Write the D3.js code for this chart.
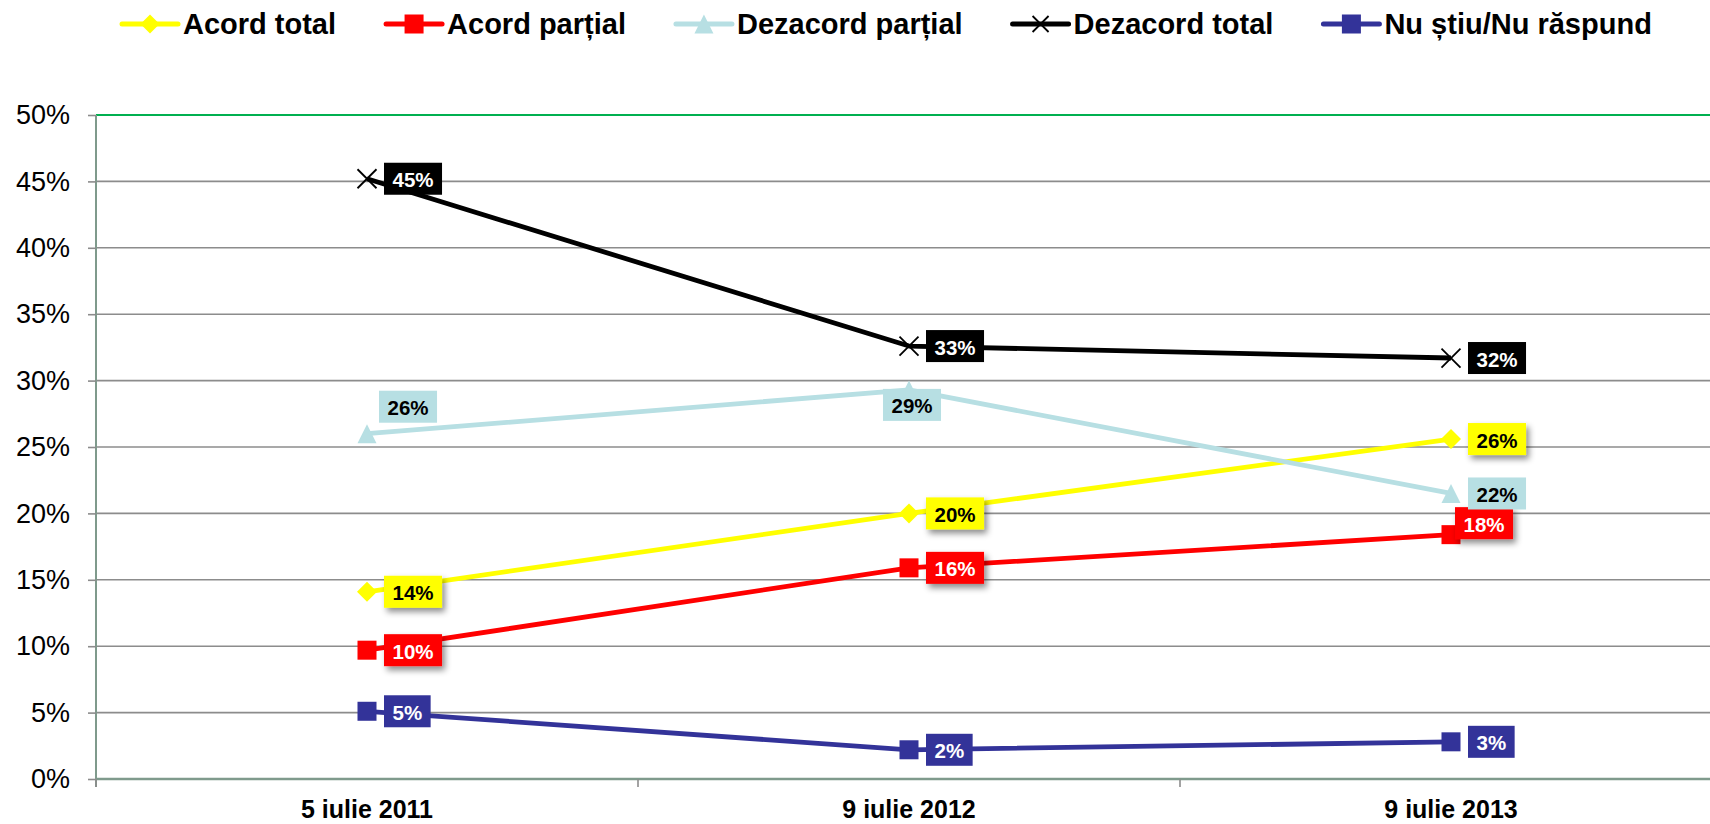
<!DOCTYPE html>
<html>
<head>
<meta charset="utf-8">
<script src="https://cdn.jsdelivr.net/npm/d3@7"></script>
<style>
  html, body { margin: 0; padding: 0; background: #fff; overflow: hidden; }
  svg { display: block; font-family: "Liberation Sans", Arial, sans-serif; }
</style>
</head>
<body>
<svg id="chart" width="1710" height="824"></svg>
<script>
// Survey waves (x categories)
const categories = ["5 iulie 2011", "9 iulie 2012", "9 iulie 2013"];

// Answer shares per wave, in percent
const acordTotal      = [14.1, 20.0, 25.6];
const acordPartial    = [9.7, 15.9, 18.4];
const dezacordPartial = [26.0, 29.3, 21.5];
const dezacordTotal   = [45.2, 32.6, 31.7];
const nuStiu          = [5.1, 2.2, 2.8];

// Series names as shown in the legend
const seriesNames = ["Acord total", "Acord parțial", "Dezacord parțial", "Dezacord total", "Nu știu/Nu răspund"];

// Y axis tick values and labels
const yTicks = [0, 5, 10, 15, 20, 25, 30, 35, 40, 45, 50];
const yTickLabels = ["0%", "5%", "10%", "15%", "20%", "25%", "30%", "35%", "40%", "45%", "50%"];

// Visual styling per series
const styles = [
  { color: "#ffff00", marker: "diamond",  text: "#000", shadow: true },
  { color: "#ff0000", marker: "square",   text: "#fff", shadow: true },
  { color: "#b7dfe3", marker: "triangle", text: "#000", shadow: false },
  { color: "#000000", marker: "cross",    text: "#fff", shadow: false },
  { color: "#333399", marker: "square",   text: "#fff", shadow: false }
];

// Label placement: default to the right of the point; a few are moved to avoid overlaps
const labelPlacement = {
  "2-0": "aboveRight",
  "2-1": "below",
  "1-2": "aboveRightClose"
};

const seriesValues = [acordTotal, acordPartial, dezacordPartial, dezacordTotal, nuStiu];
const series = seriesNames.map((name, i) => ({ name, values: seriesValues[i], ...styles[i] }));

const svg = d3.select("#chart");
const W = 1710, H = 824;
const plotLeft = 96, plotRight = 1722, plotTop = 115, plotBottom = 779;

const x = d3.scaleBand().domain(categories).range([plotLeft, plotRight]).padding(0);
const cx = c => x(c) + x.bandwidth() / 2;
const y = d3.scaleLinear().domain([0, 50]).range([plotBottom, plotTop]);

// Drop shadow for labels
const defs = svg.append("defs");
const f = defs.append("filter").attr("id", "shadow").attr("x", "-20%").attr("y", "-20%").attr("width", "150%").attr("height", "160%");
f.append("feDropShadow").attr("dx", 3).attr("dy", 4).attr("stdDeviation", 3).attr("flood-color", "#000").attr("flood-opacity", 0.45);

// Horizontal gridlines
const grid = svg.append("g");
grid.selectAll("line").data(yTicks.filter(t => t > 0)).join("line")
  .attr("x1", plotLeft).attr("x2", W)
  .attr("y1", d => y(d)).attr("y2", d => y(d))
  .attr("stroke", d => d === 50 ? "#00b050" : "#8c8c8c")
  .attr("stroke-width", d => d === 50 ? 2 : 1.6);

// Y axis
const yAxis = d3.axisLeft(y).tickValues(yTicks)
  .tickFormat((d, i) => yTickLabels[i]).tickSize(8).tickPadding(18);
const gy = svg.append("g").attr("transform", `translate(${plotLeft},0)`).call(yAxis);
gy.select(".domain").attr("stroke", "#7f9a8c").attr("stroke-width", 2)
  .attr("d", `M0,${plotTop}V${plotBottom + 8}`);
gy.selectAll(".tick line").attr("stroke", "#8c8c8c").attr("stroke-width", 1.6);
gy.selectAll(".tick text").attr("fill", "#000").attr("font-size", 27)
  .attr("font-family", "'Liberation Sans', Arial, sans-serif");

// X axis baseline and category boundary ticks
const xAxis = d3.axisBottom(x).tickSize(0).tickFormat(d => d).tickPadding(0);
const gx = svg.append("g").attr("transform", `translate(0,${plotBottom})`).call(xAxis);
gx.select(".domain").attr("stroke", "#7f9a8c").attr("stroke-width", 2.4)
  .attr("d", `M${plotLeft},0H${W}`);
gx.selectAll(".tick text").attr("fill", "#000").attr("font-size", 25).attr("font-weight", "bold")
  .attr("font-family", "'Liberation Sans', Arial, sans-serif")
  .attr("y", 39).attr("dy", 0);
const bounds = categories.map(c => x(c)).concat([x(categories[categories.length - 1]) + x.bandwidth()]);
gx.selectAll(".bound").data(bounds).join("line").attr("class", "bound")
  .attr("x1", d => d).attr("x2", d => d).attr("y1", 0).attr("y2", 8)
  .attr("stroke", "#8c8c8c").attr("stroke-width", 1.6);

// Marker drawing
function drawMarker(g, type, color, size) {
  const s = size / 2;
  if (type === "diamond") {
    g.append("path").attr("d", `M0,${-s}L${s},0L0,${s}L${-s},0Z`).attr("fill", color);
  } else if (type === "square") {
    g.append("rect").attr("x", -s).attr("y", -s).attr("width", size).attr("height", size).attr("fill", color);
  } else if (type === "triangle") {
    g.append("path").attr("d", `M0,${-s}L${s},${s}L${-s},${s}Z`).attr("fill", color);
  } else if (type === "cross") {
    g.append("path").attr("d", `M${-s},${-s}L${s},${s}M${s},${-s}L${-s},${s}`)
      .attr("stroke", color).attr("stroke-width", 1.8).attr("fill", "none");
  }
}

const line = d3.line().x((d, i) => cx(categories[i])).y(d => y(d));

// Lines and markers (later series on top)
series.forEach(s => {
  const g = svg.append("g");
  g.append("path").datum(s.values).attr("d", line)
    .attr("fill", "none").attr("stroke", s.color).attr("stroke-width", 4.8)
    .attr("stroke-linejoin", "round");
  s.values.forEach((v, i) => {
    const m = g.append("g").attr("transform", `translate(${cx(categories[i])},${y(v)})`);
    drawMarker(m, s.marker, s.color, s.marker === "diamond" ? 20 : 19);
  });
});

// Data labels
const labelLayer = svg.append("g");
series.forEach((s, si) => {
  s.values.forEach((v, i) => {
    const px = cx(categories[i]), py = y(v);
    const txt = Math.round(v) + "%";
    const g = labelLayer.append("g");
    const t = g.append("text").text(txt)
      .attr("font-size", 20.5).attr("font-weight", "bold").attr("fill", s.text)
      .attr("text-anchor", "middle").attr("dominant-baseline", "central");
    const tw = t.node().getComputedTextLength();
    const bw = tw + 17, bh = 32;
    const place = labelPlacement[`${si}-${i}`] || "right";
    let bcx, bcy;
    if (place === "right") { bcx = px + 17 + bw / 2; bcy = py; }
    else if (place === "aboveRight") { bcx = px + 12 + bw / 2; bcy = py - 27; }
    else if (place === "below") { bcx = px + 3; bcy = py + 15; }
    else if (place === "aboveRightClose") { bcx = px + 4 + bw / 2; bcy = py - 11.5; }
    g.insert("rect", "text")
      .attr("x", bcx - bw / 2).attr("y", bcy - bh / 2).attr("width", bw).attr("height", bh)
      .attr("fill", s.color)
      .attr("filter", s.shadow ? "url(#shadow)" : null);
    t.attr("x", bcx).attr("y", bcy + 1);
  });
});

// Legend
const legend = svg.append("g").attr("transform", "translate(122,24)");
let lx = 0;
series.forEach(s => {
  const g = legend.append("g").attr("transform", `translate(${lx},0)`);
  g.append("line").attr("x1", 0).attr("x2", 56).attr("y1", 0).attr("y2", 0)
    .attr("stroke", s.color).attr("stroke-width", 5).attr("stroke-linecap", "round");
  const m = g.append("g").attr("transform", "translate(28,0)");
  drawMarker(m, s.marker, s.color, s.marker === "cross" ? 16 : 19);
  const t = g.append("text").text(s.name).attr("x", 61).attr("y", 10)
    .attr("font-size", 29).attr("font-weight", "bold").attr("fill", "#000");
  lx += 61 + t.node().getComputedTextLength() + 50;
});
</script>
</body>
</html>
